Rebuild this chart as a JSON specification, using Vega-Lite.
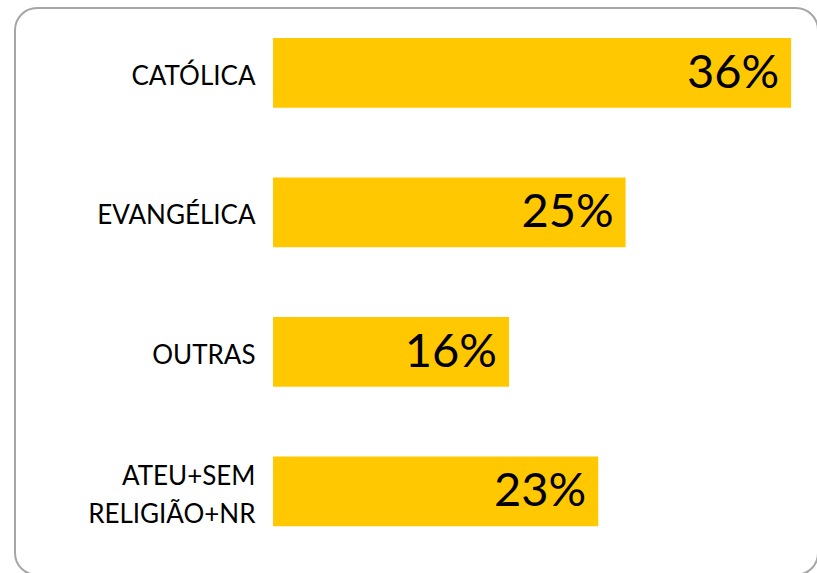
{
  "$schema": "https://vega.github.io/schema/vega-lite/v6.json",
  "width": 803,
  "height": 567,
  "autosize": {"type": "none"},
  "padding": {"left": 15, "top": 8, "right": 0, "bottom": 0},
  "background": "white",
  "config": {
    "view": {"stroke": "#a6a6a6", "strokeWidth": 2, "cornerRadius": 22},
    "font": "Lato"
  },
  "data": {
    "values": [
      {"religiao": "CATÓLICA", "valor": 36.0, "rotulo": "36%"},
      {"religiao": "EVANGÉLICA", "valor": 24.5, "rotulo": "25%"},
      {"religiao": "OUTRAS", "valor": 16.4, "rotulo": "16%"},
      {"religiao": "ATEU+SEM|RELIGIÃO+NR", "valor": 22.6, "rotulo": "23%"}
    ]
  },
  "encoding": {
    "y": {
      "field": "religiao",
      "type": "nominal",
      "sort": null,
      "scale": {"paddingInner": 0.5, "paddingOuter": 0.282, "align": 0.381},
      "axis": {
        "title": null,
        "domain": false,
        "ticks": false,
        "offset": -258,
        "labelPadding": 18,
        "labelFontSize": 26,
        "labelColor": "#000000",
        "labelFont": "Lato",
        "labelLineHeight": 38,
        "labelOffset": {"condition": {"test": "indexof(datum.value, '|') >= 0", "value": -14}, "value": 4},
        "labelExpr": "split(datum.label, '|')"
      }
    },
    "x": {
      "field": "valor",
      "type": "quantitative",
      "scale": {"domain": [-17.93, 37.87], "nice": false, "zero": false},
      "axis": null
    }
  },
  "layer": [
    {"mark": {"type": "bar", "color": "#FFC800"}},
    {
      "mark": {"type": "text", "align": "right", "baseline": "middle", "dx": -12, "dy": 1, "fontSize": 47, "color": "#000000", "font": "Lato"},
      "encoding": {"text": {"field": "rotulo"}}
    }
  ]
}
